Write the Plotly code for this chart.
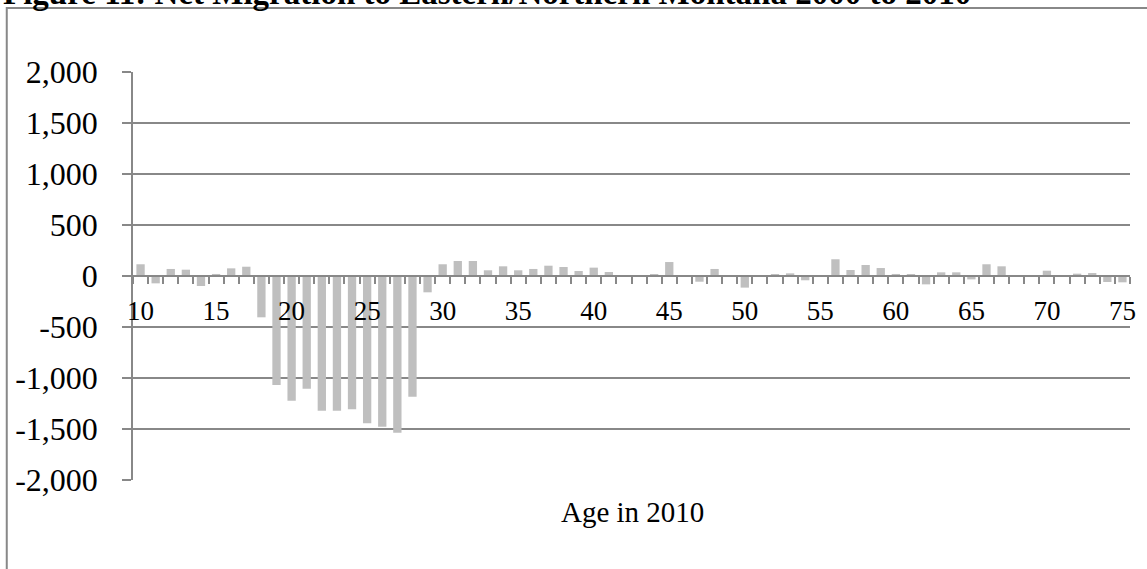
import plotly.graph_objects as go

# Net migration by single year of age (age in 2010)
ages = list(range(10, 76))
net_migration = [
    115, -72, 69, 62, -98, 20, 75, 91, -405, -1069,      # 10-19
    -1223, -1105, -1321, -1321, -1307, -1444, -1477, -1536, -1183, -160,  # 20-29
    115, 147, 147, 56, 95, 56, 69, 101, 88, 49,          # 30-39
    82, 39, 8, 5, 10, 137, 0, -56, 69, 4,                # 40-49
    -114, 0, 10, 26, -42, 0, 164, 59, 108, 78,           # 50-59
    20, 13, -82, 36, 36, -33, 115, 95, 0, 0,             # 60-69
    52, 0, 23, 29, -59, -62,                             # 70-75
]
x_tick_ages = list(range(10, 76, 5))
y_tick_values = list(range(-2000, 2001, 500))
y_tick_labels = [f"{v:,}" for v in y_tick_values]

title_text = "Figure 11: Net Migration to Eastern/Northern Montana 2000 to 2010"
x_title = "Age in 2010"

W, H = 1147, 569
L, R, T, B = 133, 11, 72, 89
GRAY = "#888888"
FONT = "Times New Roman, Liberation Serif, serif"


def px_to_paper(px_x, px_y):
    pw = W - L - R
    ph = H - T - B
    return (px_x - L) / pw, (H - B - px_y) / ph


fig = go.Figure(
    go.Bar(
        x=ages,
        y=net_migration,
        marker=dict(color="#BFBFBF", line=dict(width=0)),
        hoverinfo="x+y",
    )
)

fig.update_layout(
    width=W,
    height=H,
    autosize=False,
    margin=dict(l=L, r=R, t=T, b=B, pad=0),
    paper_bgcolor="white",
    plot_bgcolor="white",
    bargap=0.45,
    showlegend=False,
    font=dict(family=FONT, color="black"),
)

# category axis sits on the zero line
fig.update_xaxes(
    range=[9.5, 75.5],
    anchor="free",
    position=0.5,
    showgrid=False,
    zeroline=False,
    showline=True,
    linecolor=GRAY,
    linewidth=1.5,
    tickmode="array",
    tickvals=x_tick_ages,
    ticks="outside",
    ticklen=0,
    tickfont=dict(size=27, family=FONT, color="black"),
    ticklabelstandoff=11,
    minor=dict(
        tickmode="linear",
        tick0=9.5,
        dtick=1,
        ticks="outside",
        ticklen=7,
        tickcolor=GRAY,
        tickwidth=1.5,
        showgrid=False,
    ),
)

fig.update_yaxes(
    range=[-2000, 2000],
    tickmode="array",
    tickvals=y_tick_values,
    ticktext=y_tick_labels,
    showgrid=True,
    gridcolor=GRAY,
    gridwidth=1.5,
    zeroline=False,
    showline=True,
    linecolor=GRAY,
    linewidth=1.5,
    ticks="outside",
    ticklen=9,
    tickcolor=GRAY,
    tickwidth=1.5,
    tickfont=dict(size=32, family=FONT, color="black"),
    ticklabelstandoff=18,
)

# outer chart frame
fx0, fy1 = px_to_paper(6, 8)
fig.add_shape(
    type="rect",
    xref="paper",
    yref="paper",
    x0=fx0,
    y0=-0.4,
    x1=1.3,
    y1=fy1,
    line=dict(color=GRAY, width=2),
    fillcolor="rgba(0,0,0,0)",
    layer="below",
)

tx, ty = px_to_paper(0, -7)
fig.add_annotation(
    text=f"<b>{title_text}</b>",
    xref="paper",
    yref="paper",
    x=tx,
    y=ty,
    xanchor="left",
    yanchor="middle",
    showarrow=False,
    font=dict(size=33, family=FONT, color="black"),
)

ax, ay = px_to_paper(636, 512)
fig.add_annotation(
    text=x_title,
    xref="paper",
    yref="paper",
    x=ax,
    y=ay,
    xanchor="center",
    yanchor="middle",
    showarrow=False,
    font=dict(size=29, family=FONT, color="black"),
)

fig.write_html("out.html")
